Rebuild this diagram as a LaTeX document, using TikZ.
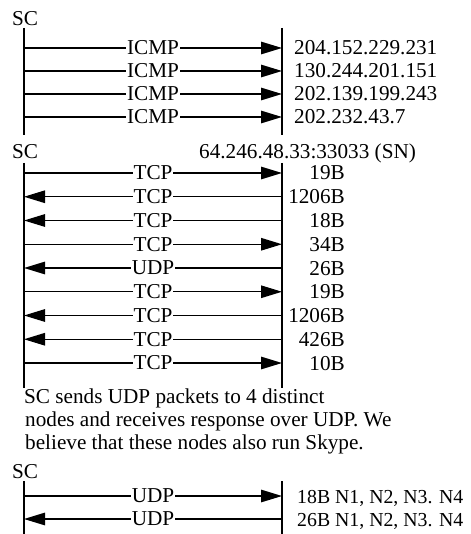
\documentclass[tikz,border=0pt]{standalone}
\usepackage{fontspec}
\setmainfont{Liberation Serif}
\usetikzlibrary{arrows.meta}
\begin{document}
\begin{tikzpicture}[x=1pt,y=-1pt,
  font=\fontsize{21.2}{25}\selectfont,
  life/.style={line width=1.4pt},
  msg/.style={line width=1.3pt},
  toR/.style={msg,-{Triangle[length=21pt,width=12.5pt]}},
  toL/.style={msg,{Triangle[length=21pt,width=12.5pt]}-},
  lab/.style={fill=white,inner xsep=1pt,inner ysep=0pt},
  txt/.style={anchor=base west,inner sep=0pt},
  rtxt/.style={anchor=base east,inner sep=0pt},
  ntxt/.style={txt,font=\fontsize{19.8}{24}\selectfont}]
\useasboundingbox (0,0) rectangle (470,534);
% ---------- section 1: ICMP ----------
\node[txt] (sc1) at (12,26) {SC};
\coordinate (s1lt) at (24,28);  \coordinate (s1lb) at (24,135);
\coordinate (s1rt) at (282,28); \coordinate (s1rb) at (282,135);
\draw[life] (s1lt) -- (s1lb);
\draw[life] (s1rt) -- (s1rb);
\foreach \yy/\ip [count=\i] in {48/204.152.229.231, 71/130.244.201.151, 94/202.139.199.243, 117/202.232.43.7}{
  \coordinate (a1l\i) at (24,\yy);
  \coordinate (a1r\i) at (282,\yy);
  \draw[toR] (a1l\i) -- node[lab] (m1\i) {ICMP} (a1r\i);
  \node[txt] (ip\i) at (294,\yy+7) {\ip};
}
% ---------- section 2: TCP with SN ----------
\node[txt] (sc2) at (12,159) {SC};
\node[txt] (sn) at (199,159) {64.246.48.33:33033 (SN)};
\coordinate (s2lt) at (24,163);  \coordinate (s2lb) at (24,388);
\coordinate (s2rt) at (282,163); \coordinate (s2rb) at (282,388);
\draw[life] (s2lt) -- (s2lb);
\draw[life] (s2rt) -- (s2rb);
\foreach \d/\p/\b [count=\i] in {toR/TCP/19B, toL/TCP/1206B, toL/TCP/18B, toR/TCP/34B, toL/UDP/26B, toR/TCP/19B, toL/TCP/1206B, toL/TCP/426B, toR/TCP/10B}{
  \pgfmathsetmacro\yy{173+23.75*(\i-1)}
  \coordinate (a2l\i) at (24,\yy);
  \coordinate (a2r\i) at (282,\yy);
  \draw[\d] (a2l\i) -- node[lab] (m2\i) {\p} (a2r\i);
  \node[rtxt] (b2\i) at (345,\yy+7) {\b};
}
% ---------- paragraph ----------
\node[txt] (p1) at (24,403) {SC sends UDP packets to 4 distinct};
\node[txt] (p2) at (25,426) {nodes and receives response over UDP. We};
\node[txt] (p3) at (25,449) {believe that these nodes also run Skype.};
% ---------- section 3: UDP ----------
\node[txt] (sc3) at (12,478) {SC};
\coordinate (s3lt) at (24,481);  \coordinate (s3lb) at (24,534);
\coordinate (s3rt) at (282,481); \coordinate (s3rb) at (282,534);
\draw[life] (s3lt) -- (s3lb);
\draw[life] (s3rt) -- (s3rb);
\coordinate (a3l1) at (24,496);  \coordinate (a3r1) at (282,496);
\coordinate (a3l2) at (24,519);  \coordinate (a3r2) at (282,519);
\draw[toR] (a3l1) -- node[lab] (m31) {UDP} (a3r1);
\draw[toL] (a3l2) -- node[lab] (m32) {UDP} (a3r2);
\node[ntxt] (n1) at (297,503) {18B N1, N2, N3. N4};
\node[ntxt] (n2) at (297,526) {26B N1, N2, N3. N4};
\end{tikzpicture}
\end{document}
